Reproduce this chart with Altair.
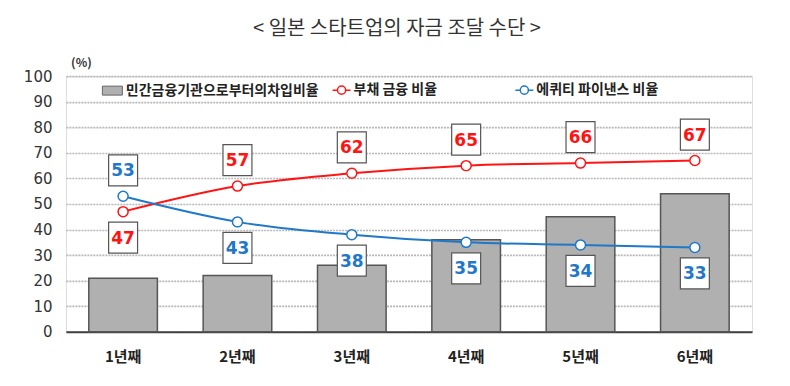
import altair as alt
import pandas as pd

categories = ["1년째", "2년째", "3년째", "4년째", "5년째", "6년째"]
loan_ratio = [21, 22, 26, 36, 45, 54]
debt_ratio = [47, 57, 62, 65, 66, 67]
equity_ratio = [53, 43, 38, 35, 34, 33]

BAR_NAME = "민간금융기관으로부터의차입비율"
DEBT_NAME = "부채 금융 비율"
EQ_NAME = "에퀴티 파이낸스 비율"
TITLE = "< 일본 스타트업의 자금 조달 수단 >"

RED = "#ff1414"
BLUE = "#1f78c8"
KR = "Noto Sans CJK KR"
NUM = "DejaVu Sans"

bars_df = pd.DataFrame({"year": categories, "value": loan_ratio, "series": BAR_NAME})
rows = []
for i, c in enumerate(categories):
    d, e = debt_ratio[i], equity_ratio[i]
    rows.append({"year": c, "series": DEBT_NAME, "value": d, "above": bool(d >= e)})
    rows.append({"year": c, "series": EQ_NAME, "value": e, "above": bool(e > d)})
lines_df = pd.DataFrame(rows)

x = alt.X(
    "year:N", sort=categories,
    scale=alt.Scale(paddingInner=0.4, paddingOuter=0.2),
    axis=alt.Axis(title=None, labelAngle=0, ticks=False, domain=True,
                  domainColor="#404040", domainWidth=2, labelPadding=18,
                  labelFont=KR, labelFontSize=15, labelFontWeight="bold",
                  labelColor="#222", grid=False),
)
y = alt.Y(
    "value:Q",
    scale=alt.Scale(domain=[0, 100], nice=False),
    axis=alt.Axis(values=list(range(0, 101, 10)), title="(%)", titleAngle=0,
                  titleX=15, titleY=-14, titleAlign="center", titleBaseline="middle",
                  titleFont=KR, titleFontSize=12, titleFontWeight="bold", titleColor="#333",
                  ticks=False, domain=False, labelPadding=14, labelFont=NUM,
                  labelFontSize=15, labelColor="#333", grid=True,
                  gridColor="#b8b8b8", gridWidth=1.6, gridDash=[2, 1]),
)

line_symbol = "M-1,0H-0.45M0.45,0H1M0.45,0A0.45,0.45,0,1,1,-0.45,0A0.45,0.45,0,1,1,0.45,0"

bars = alt.Chart(bars_df).mark_bar(stroke="#555", strokeWidth=1.5).encode(
    x=x, y=y,
    fill=alt.Fill("series:N", scale=alt.Scale(range=["#b0b0b0"]),
                  legend=alt.Legend(title=None, orient="none", legendX=36, legendY=4,
                                    symbolType="M-1,-0.45H1V0.45H-1Z", symbolSize=400,
                                    symbolStrokeColor="#666", symbolStrokeWidth=1,
                                    labelFont=KR, labelFontSize=14, labelFontWeight="bold",
                                    labelColor="#222", labelOffset=3, padding=0,
                                    labelLimit=400)),
)


def series_line(name, color, lx):
    leg = alt.Legend(title=None, orient="none", legendX=lx, legendY=4,
                     symbolType=line_symbol, symbolSize=324,
                     symbolFillColor="white", symbolStrokeWidth=1.5,
                     labelFont=KR, labelFontSize=14, labelFontWeight="bold",
                     labelColor="#222", labelOffset=2, padding=0, labelLimit=400)
    return alt.Chart(lines_df).transform_filter(alt.datum.series == name).mark_line(
        interpolate="monotone", strokeWidth=2).encode(
        x=x, y=y,
        stroke=alt.Stroke("series:N", scale=alt.Scale(domain=[name], range=[color]), legend=leg),
    )


stroke_scale = alt.Scale(domain=[DEBT_NAME, EQ_NAME], range=[RED, BLUE])
line_red = series_line(DEBT_NAME, RED, 266)
line_blue = series_line(EQ_NAME, BLUE, 449)

points = alt.Chart(lines_df).mark_point(shape="circle", filled=False, fill="white",
                                        size=100, strokeWidth=1.5, opacity=1).encode(
    x=x, y=y, stroke=alt.Stroke("series:N", scale=stroke_scale, legend=None)
)

box_shape = "M-1,-1.07H1V1.07H-1Z"
color_enc = alt.Color("series:N", scale=stroke_scale, legend=None)


def label_layers(flag, off):
    base = alt.Chart(lines_df).transform_filter(alt.datum.above == flag)
    box = base.mark_point(shape=box_shape, size=841, fill="white", filled=False,
                          stroke="#555", strokeWidth=1.2, opacity=1, yOffset=off).encode(x=x, y=y)
    txt = base.mark_text(font=NUM, fontSize=17, fontWeight="bold", yOffset=off + 1,
                         baseline="middle").encode(x=x, y=y, text="value:Q", color=color_enc)
    return [box, txt]


layers = [bars, line_red, line_blue, points] + label_layers(True, -26) + label_layers(False, 26)

chart = alt.layer(*layers).resolve_scale(fill="independent", stroke="independent").properties(
    width=687, height=256,
    autosize=alt.AutoSizeParams(type="none"),
    padding={"left": 58, "top": 68, "right": 30, "bottom": 40},
    title=alt.TitleParams(TITLE, font=KR, fontSize=20, fontWeight="normal", color="#333",
                          anchor="middle", offset=17, dx=-12),
).configure_view(stroke="#8a8a8a", strokeWidth=1.5).configure(background="white")

chart.save("out.html", embed_options={"renderer": "svg", "actions": False})
